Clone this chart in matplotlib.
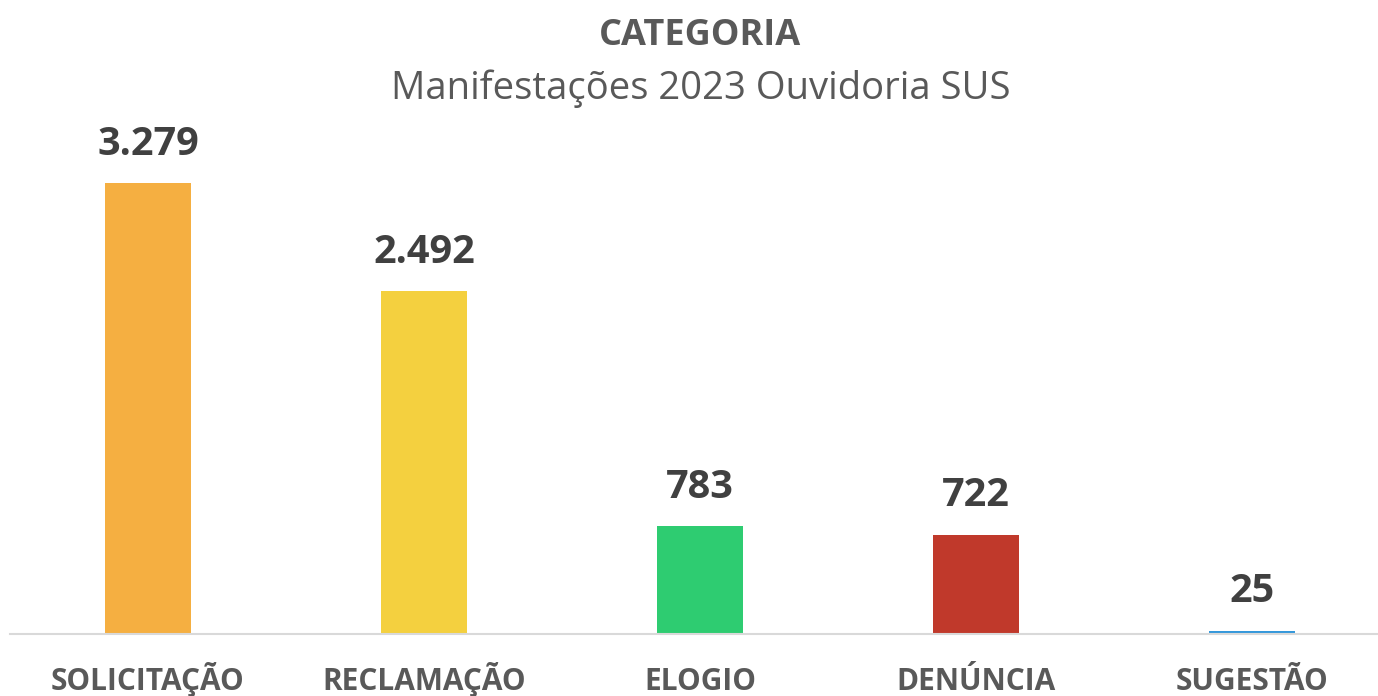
import matplotlib
matplotlib.use("Agg")
import matplotlib.pyplot as plt
import matplotlib.transforms as mtransforms

categories = ["SOLICITAÇÃO", "RECLAMAÇÃO", "ELOGIO", "DENÚNCIA", "SUGESTÃO"]
values = [3279, 2492, 783, 722, 25]
value_labels = ["3.279", "2.492", "783", "722", "25"]
colors = ["#F5AF41", "#F4D03F", "#2ECC71", "#C0392B", "#3498DB"]

plt.rcParams['font.family'] = ['Open Sans', 'DejaVu Sans']

W, H = 1378, 696
fig = plt.figure(figsize=(W/100, H/100), dpi=100)
# axes spanning x 10..1390 px, baseline at y=634
left = 10 / W
width = 1380 / W
bottom = (H - 634) / H
ymax = 3600
height_px = ymax * 451 / 3279
ax = fig.add_axes([left, bottom, width, height_px / H])

x = list(range(len(categories)))
ax.bar(x, values, width=0.314, color=colors, zorder=2)
ax.set_xlim(-0.5, len(categories) - 0.5)
ax.set_ylim(0, ymax)

for xi, v, lab in zip(x, values, value_labels):
    ax.annotate(lab, (xi, v), xytext=(0, 14), textcoords="offset points",
                ha="center", va="bottom", fontsize=28.5, fontweight="bold",
                color="#404040")

ax.set_xticks(x)
ax.set_xticklabels([])
ax.tick_params(axis="x", length=0)
trans = mtransforms.blended_transform_factory(ax.transData, fig.transFigure)
for xi, cat in zip(x, categories):
    ax.text(xi, 1 - 690 / H, cat, transform=trans, ha="center", va="baseline",
            fontsize=21.5, fontweight="bold", color="#595959", clip_on=False)
ax.set_yticks([])
for s in ["top", "right", "left"]:
    ax.spines[s].set_visible(False)
ax.spines["bottom"].set_color("#D9D9D9")
ax.spines["bottom"].set_linewidth(1.5)

fig.text(700 / W, 1 - 36 / H, "CATEGORIA", ha="center", va="center",
         fontsize=26, fontweight="bold", color="#595959")
fig.text(701 / W, 1 - 89 / H, "Manifestações 2023 Ouvidoria SUS", ha="center",
         va="center", fontsize=27.5, color="#595959")

fig.savefig("out.png", dpi=100, facecolor="white")
